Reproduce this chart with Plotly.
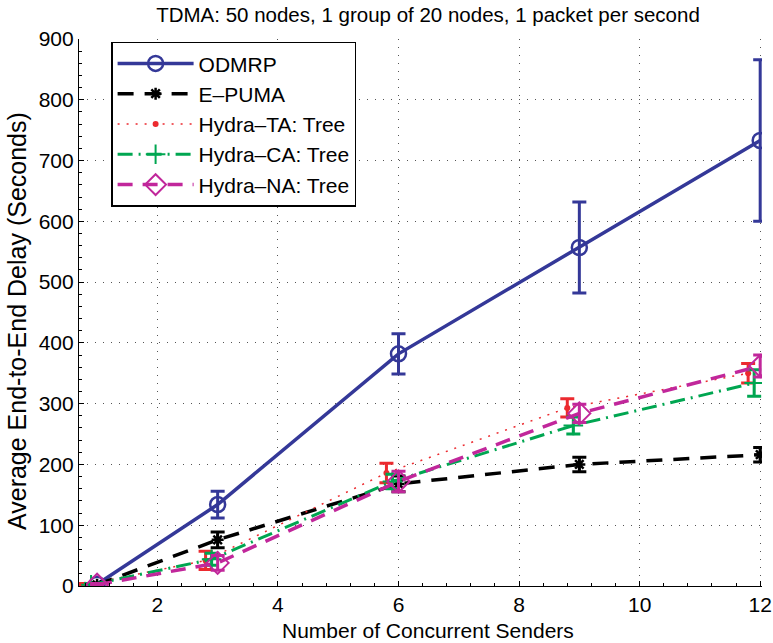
import plotly.graph_objects as go

# ---- data ----
x_main = [1, 3, 6, 9, 12]
x_ta = [0.8, 2.8, 5.8, 8.8, 11.8]
x_ca = [0.9, 2.9, 5.9, 8.9, 11.9]

odmrp = [3, 134, 382, 557, 733]
odmrp_err = [2, 22, 33, 75, 133]

epuma = [2, 76, 168, 200, 216]
epuma_err = [2, 13, 13, 12, 12]

hydra_ta = [2, 42, 186, 293, 350]
hydra_ta_err = [2, 15, 16, 15, 16]

hydra_ca = [2, 44, 172, 264, 334]
hydra_ca_err = [2, 10, 12, 14, 22]

hydra_na = [2, 38, 172, 284, 362]
hydra_na_err = [2, 12, 17, 15, 18]

names = ["ODMRP", "E\u2013PUMA", "Hydra\u2013TA: Tree", "Hydra\u2013CA: Tree", "Hydra\u2013NA: Tree"]

FONT = "Liberation Sans, Arial, Helvetica, sans-serif"
W, H = 773, 643
L, R, T, B = 79, 11, 39, 57

fig = go.Figure()

def add(x, y, err, name, color, width, dash, symbol, msize, mlw, ebw, group):
    fig.add_trace(go.Scatter(
        x=x, y=y, name=name, mode="lines+markers",
        legendgroup=group,
        line=dict(color=color, width=width, dash=dash),
        marker=dict(symbol=symbol, size=msize, color=color,
                    line=dict(color=color, width=mlw)),
        error_y=dict(type="data", array=err, visible=True, color=color,
                     thickness=ebw, width=7),
    ))

add(x_main, odmrp, odmrp_err, names[0], "#343898", 3.5, "solid", "circle-open", 15, 2.5, 3, "a")
add(x_main, epuma, epuma_err, names[1], "#000000", 3.5, "16px,11px", "asterisk-open", 10, 2.5, 3, "b")
add(x_ta, hydra_ta, hydra_ta_err, names[2], "#ec2a2f", 1.5, "2px,7px", "circle", 6, 0, 3, "c")
add(x_ca, hydra_ca, hydra_ca_err, names[3], "#00a651", 3, "15px,6px,2px,6px", "cross-thin-open", 14, 2, 3, "d")
add(x_main, hydra_na, hydra_na_err, names[4], "#c1279b", 3.5, "15px,10px", "diamond-open", 17, 2, 3, "e")

axis_common = dict(
    showline=True, linecolor="black", linewidth=1.2, mirror=False,
    ticks="inside", ticklen=5, tickcolor="black",
    showgrid=True, gridcolor="#555555", gridwidth=1, griddash="1px,7px",
    zeroline=False, automargin=False,
    tickfont=dict(family=FONT, size=21, color="black"),
)

fig.update_xaxes(
    range=[0.7, 12.03], tickvals=[2, 4, 6, 8, 10, 12],
    minor=dict(ticks="inside", ticklen=3, dtick=0.4, tick0=0, tickcolor="black", showgrid=False),
    **axis_common,
)
fig.update_yaxes(
    range=[0, 900], tickvals=list(range(0, 901, 100)),
    minor=dict(ticks="inside", ticklen=3, dtick=20, tickcolor="black", showgrid=False),
    **axis_common,
)

pw = W - L - R
ph = H - T - B
fig.add_annotation(text="Number of Concurrent Senders", showarrow=False,
                   xref="paper", yref="paper",
                   x=(428 - L) / pw, y=-(630 - (H - B)) / ph,
                   xanchor="center", yanchor="middle",
                   font=dict(family=FONT, size=21, color="black"))
fig.add_annotation(text="Average End-to-End Delay (Seconds)", showarrow=False,
                   textangle=-90, xref="paper", yref="paper",
                   x=-(L - 17) / pw, y=((H - B) - 321) / ph,
                   xanchor="center", yanchor="middle",
                   font=dict(family=FONT, size=25, color="black"))

fig.update_layout(
    width=W, height=H,
    margin=dict(l=L, r=R, t=T, b=B, autoexpand=False),
    paper_bgcolor="white", plot_bgcolor="white",
    title=dict(text="TDMA: 50 nodes, 1 group of 20 nodes, 1 packet per second",
               font=dict(family=FONT, size=20.5, color="black"),
               x=428 / W, xanchor="center", y=1 - 15 / H, yanchor="middle"),
    legend=dict(x=0.047, y=0.995, xanchor="left", yanchor="top",
                bgcolor="white", bordercolor="black", borderwidth=1.5,
                font=dict(family=FONT, size=21, color="black"),
                tracegroupgap=0, itemwidth=76),
    showlegend=True,
)

fig.write_html("out.html")
